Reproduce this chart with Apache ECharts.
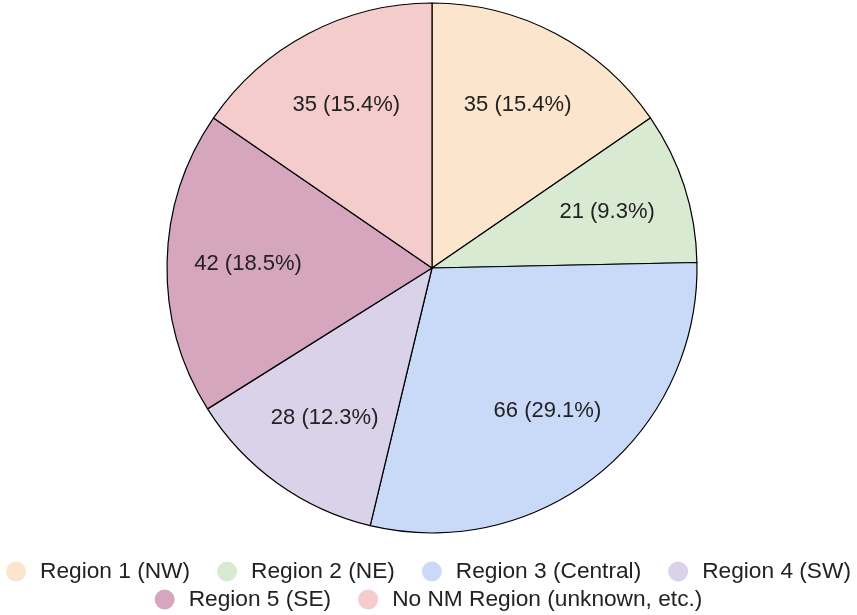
<!DOCTYPE html>
<html>
<head>
<meta charset="utf-8">
<script src="https://cdn.jsdelivr.net/npm/echarts@6/dist/echarts.min.js"></script>
<style>
  html, body { margin: 0; padding: 0; background: #fff; }
  #chart { width: 857px; height: 615px; }
</style>
</head>
<body>
<div id="chart"></div>
<script>
// Responses by region
const categories = ['Region 1 (NW)', 'Region 2 (NE)', 'Region 3 (Central)', 'Region 4 (SW)', 'Region 5 (SE)', 'No NM Region (unknown, etc.)'];
const counts = [35, 21, 66, 28, 42, 35];
const colors = ['#fce5cd', '#d9ead3', '#c9daf8', '#d9d2e9', '#d5a6bd', '#f4cccc'];

const total = counts.reduce((a, b) => a + b, 0);
const pieData = categories.map((name, i) => ({ name, value: counts[i], itemStyle: { color: colors[i] } }));

const center = [432, 268];
const font = '"Liberation Sans", Arial, sans-serif';

// legend split into two centred rows
const legendBase = {
  left: 'center',
  orient: 'horizontal',
  icon: 'circle',
  itemWidth: 20,
  itemHeight: 20,
  itemGap: 27,
  itemStyle: { borderWidth: 0 },
  textStyle: { fontFamily: font, fontSize: 22.7, lineHeight: 22, color: '#222', padding: [0, 0, 0, 9] }
};

const chart = echarts.init(document.getElementById('chart'), null, { renderer: 'canvas' });
chart.setOption({
  animation: false,
  legend: [
    Object.assign({}, legendBase, { top: 555, data: categories.slice(0, 4) }),
    Object.assign({}, legendBase, { top: 583, data: categories.slice(4) })
  ],
  series: [
    {
      type: 'pie',
      center: center,
      radius: [0, 265],
      startAngle: 90,
      clockwise: true,
      data: pieData,
      itemStyle: { borderColor: '#000', borderWidth: 1.2 },
      label: { show: false },
      labelLine: { show: false },
      emphasis: { disabled: true }
    },
    {
      // label ring: places value labels at ~70% of the radius
      type: 'pie',
      center: center,
      radius: [97, 265],
      startAngle: 90,
      clockwise: true,
      silent: true,
      legendHoverLink: false,
      data: pieData.map(d => ({ name: d.name, value: d.value, itemStyle: { color: 'transparent' } })),
      itemStyle: { borderWidth: 0 },
      label: {
        show: true,
        position: 'inside',
        fontFamily: font,
        fontSize: 22,
        color: '#222',
        formatter: p => p.value + ' (' + (p.value / total * 100).toFixed(1) + '%)'
      },
      labelLine: { show: false },
      emphasis: { disabled: true }
    }
  ]
});
</script>
</body>
</html>
